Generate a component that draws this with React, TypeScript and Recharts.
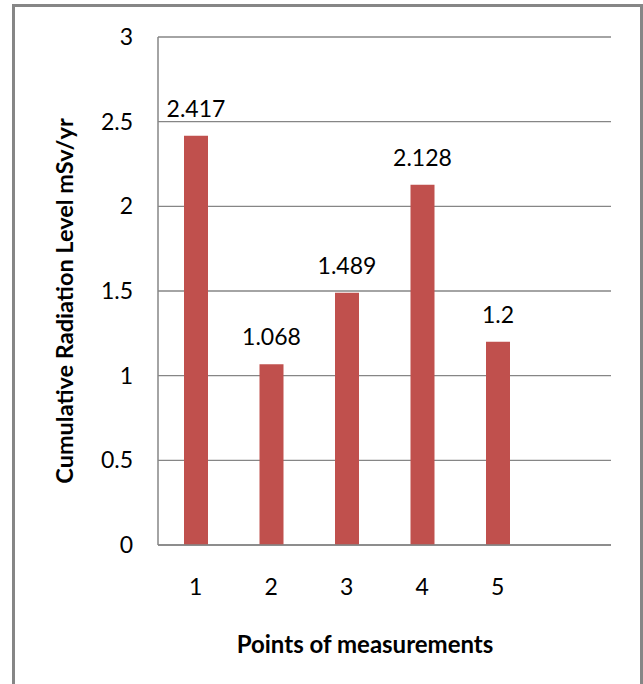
import React from 'react';
import { BarChart, Bar, XAxis, YAxis, CartesianGrid, LabelList, Label } from 'recharts';

// Measurement points along the x axis (the trailing blank slot keeps the empty category)
const points = ['1', '2', '3', '4', '5', ''];
// Cumulative radiation level at each point, mSv/yr
const radiation = [2.417, 1.068, 1.489, 2.128, 1.2, null];
const yTicks = [0, 0.5, 1, 1.5, 2, 2.5, 3];

const data = points.map((point, i) => ({ point, value: radiation[i] }));

const FONT = 'Lato, "Open Sans", sans-serif';
const GRID = '#868686';
const BAR = '#C0504D';

const tickStyle = { fill: '#000', fontSize: 23, fontFamily: FONT };

export default function App() {
  return (
    <div style={{ position: 'absolute', left: 0, top: 0, width: 643, height: 684, background: '#fff', overflow: 'hidden' }}>
      <div
        style={{
          position: 'absolute',
          left: 12,
          top: 4,
          width: 631,
          height: 720,
          border: `3px solid ${GRID}`,
          boxSizing: 'border-box',
        }}
      />
      <div style={{ position: 'absolute', left: 0, top: 0 }}>
        <BarChart
          width={643}
          height={684}
          data={data}
          margin={{ top: 37, right: 32, bottom: 79, left: 0 }}
          barCategoryGap={0}
          style={{ fontFamily: FONT }}
        >
          <CartesianGrid vertical={false} stroke={GRID} strokeWidth={1.3} />
          <XAxis
            dataKey="point"
            height={60}
            tickLine={false}
            tickSize={0}
            tickMargin={34}
            axisLine={{ stroke: GRID, strokeWidth: 1.5 }}
            tick={tickStyle}
            interval={0}
          >
            <Label
              content={() => (
                <text
                  x={365}
                  y={653}
                  textAnchor="middle"
                  fontFamily={FONT}
                  fontWeight="bold"
                  fontSize={24}
                  fill="#000"
                >
                  Points of measurements
                </text>
              )}
            />
          </XAxis>
          <YAxis
            width={158}
            domain={[0, 3]}
            ticks={yTicks}
            tickLine={false}
            tickSize={0}
            tickMargin={25}
            axisLine={{ stroke: GRID, strokeWidth: 1.5 }}
            tick={tickStyle}
            interval={0}
          >
            <Label
              content={() => (
                <text
                  x={64}
                  y={301}
                  transform="rotate(-90 64 301)"
                  textAnchor="middle"
                  dominantBaseline="central"
                  fontFamily={FONT}
                  fontWeight="bold"
                  fontSize={23.5}
                  fill="#000"
                >
                  Cumulative Radiation Level mSv/yr
                </text>
              )}
            />
          </YAxis>
          <Bar dataKey="value" fill={BAR} barSize={24} isAnimationActive={false}>
            <LabelList
              dataKey="value"
              position="top"
              offset={19}
              fill="#000"
              fontSize={23}
              fontFamily={FONT}
            />
          </Bar>
        </BarChart>
      </div>
    </div>
  );
}
